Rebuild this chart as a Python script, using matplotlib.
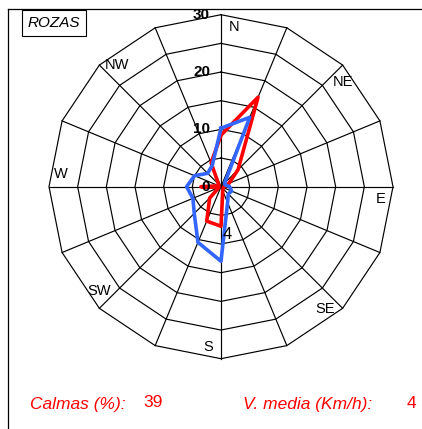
import numpy as np
import matplotlib.pyplot as plt
from matplotlib.lines import Line2D
from matplotlib.patches import Rectangle

plt.rcParams['font.family'] = ['Liberation Sans', 'DejaVu Sans']

# wind frequency (%) per direction, clockwise from N
directions = ["N", "NNE", "NE", "ENE", "E", "ESE", "SE", "SSE",
              "S", "SSW", "SW", "WSW", "W", "WNW", "NW", "NNW"]
red_freq = [9.0, 16.9, 4.2, 1.5, 0.5, 0.5, 0.5, 0.8,
            6.9, 6.5, 2.8, 0.4, 3.5, 0.4, 0.6, 4.5]
blue_freq = [10.2, 13.1, 0.9, 0.8, 1.5, 2.0, 1.8, 3.0,
             13.0, 10.5, 6.6, 5.3, 6.0, 5.0, 3.3, 4.0]
rings = [5, 10, 15, 20, 25, 30]
ring_labels = [0, 10, 20, 30]
compass = ["N", "NE", "E", "SE", "S", "SW", "W", "NW"]
station = "ROZAS"
calmas = 39
v_media = 4

W, H = 422, 429
fig = plt.figure(figsize=(W / 100, H / 100), dpi=100)

# polar axes placed in pixels: centre and outer radius
cx, cy, R = 221, 186.7, 172
ax = fig.add_axes([(cx - R) / W, (H - cy - R) / H, 2 * R / W, 2 * R / H],
                  projection='polar')
ax.set_theta_zero_location('N')
ax.set_theta_direction(-1)
ax.set_ylim(0, 30)
ax.axis('off')

theta = np.deg2rad(np.arange(len(directions)) * 360 / len(directions))
theta_c = np.append(theta, theta[0])

# polygon grid
for r in rings:
    ax.plot(theta_c, [r] * len(theta_c), color='black', lw=0.85, clip_on=False)
for t in theta:
    ax.plot([t, t], [0, rings[-1]], color='black', lw=0.85, clip_on=False)

ax.plot(theta_c, red_freq + red_freq[:1], color='#ff0000', lw=2.6, clip_on=False)
ax.plot(theta_c, blue_freq + blue_freq[:1], color='#3366ff', lw=2.6, clip_on=False)

for v in ring_labels:
    ax.annotate(str(v), xy=(0, v), xytext=(-11, 0), textcoords='offset pixels',
                ha='right', va='center', fontsize=11, fontweight='bold', zorder=5)

for i, lab in enumerate(compass):
    ax.text(np.deg2rad(i * 45 + 4.5), 28, lab, ha='center', va='center',
            fontsize=10.5, zorder=5)

ax.text(np.deg2rad(172.3), 8.5, "4", ha='center', va='center', fontsize=12, zorder=5)

# outer frame (only top and left edges visible)
fig.add_artist(Line2D([7.5 / W, 1], [1 - 9 / H, 1 - 9 / H], transform=fig.transFigure,
                      color='black', lw=0.9))
fig.add_artist(Line2D([7.5 / W, 7.5 / W], [0, 1 - 9 / H], transform=fig.transFigure,
                      color='black', lw=0.9))

# station box
fig.add_artist(Rectangle((22 / W, 1 - 36 / H), 64 / W, 26 / H, transform=fig.transFigure,
                         fill=False, edgecolor='black', lw=0.8))
fig.text(54 / W, 1 - 23 / H, station, ha='center', va='center', fontsize=11, style='italic')

# footer
fig.text(30.5 / W, 1 - 408.5 / H, "Calmas (%):", ha='left', va='baseline',
         fontsize=12.5, style='italic', color='#ff0000')
fig.text(143 / W, 1 - 407 / H, str(calmas), ha='left', va='baseline',
         fontsize=12.5, color='#ff0000')
fig.text(243 / W, 1 - 409 / H, "V. media (Km/h):", ha='left', va='baseline',
         fontsize=12.5, style='italic', color='#ff0000')
fig.text(406.5 / W, 1 - 407.5 / H, str(v_media), ha='left', va='baseline',
         fontsize=12.5, color='#ff0000')

fig.savefig("out.png", dpi=100)
